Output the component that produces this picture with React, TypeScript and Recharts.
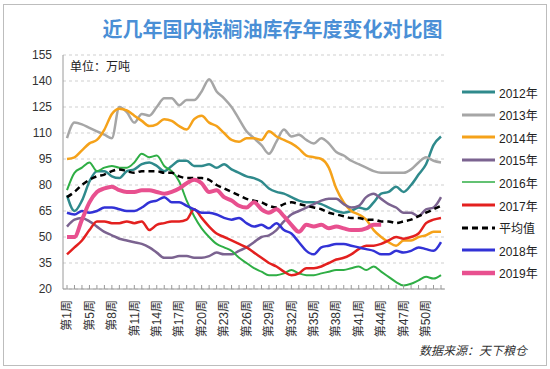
import React from "react";
import { LineChart, Line, XAxis, YAxis, CartesianGrid } from "recharts";

const weeks = [
  "第1周", "第3周", "第4周", "第5周", "第6周", "第7周", "第8周", "第9周", "第10周", "第11周",
  "第12周", "第13周", "第14周", "第15周", "第16周", "第17周", "第18周", "第19周", "第20周", "第21周",
  "第22周", "第23周", "第24周", "第25周", "第26周", "第27周", "第28周", "第29周", "第30周", "第31周",
  "第32周", "第33周", "第34周", "第35周", "第36周", "第37周", "第38周", "第39周", "第40周", "第41周",
  "第42周", "第43周", "第44周", "第45周", "第46周", "第47周", "第48周", "第49周", "第50周", "第51周",
  "第52周",
];

const y2012 = [74, 65, 71, 82, 88, 88, 85, 84, 88, 89, 92, 93, 91, 88, 91, 94, 94, 91, 91, 92, 90, 92, 89, 87, 85, 84, 82, 78, 76, 75, 73, 71, 70, 70, 69, 67, 65, 64, 65, 67, 66, 70, 75, 76, 79, 76, 80, 86, 92, 103, 108];
const y2013 = [107, 116, 115, 113, 111, 109, 107, 125, 122, 116, 121, 120, 125, 130, 130, 126, 129, 129, 134, 141, 134, 130, 125, 118, 111, 107, 103, 98, 105, 112, 108, 109, 106, 104, 107, 104, 99, 97, 94, 92, 90, 88, 87, 87, 87, 87, 89, 93, 96, 94, 93];
const y2014 = [95, 96, 100, 104, 106, 112, 121, 124, 123, 120, 117, 114, 115, 118, 117, 114, 112, 118, 120, 116, 114, 110, 106, 105, 107, 107, 106, 111, 108, 106, 104, 101, 97, 96, 95, 90, 78, 70, 65, 63, 60, 54, 50, 47, 45, 48, 48, 50, 51, 53, 53];
const y2015 = [56, 60, 61, 59, 56, 53, 51, 49, 48, 47, 46, 44, 41, 38, 38, 39, 39, 38, 38, 39, 41, 40, 40, 42, 44, 47, 50, 51, 54, 59, 63, 65, 67, 69, 71, 72, 72, 69, 67, 68, 73, 75, 72, 69, 67, 64, 64, 62, 66, 67, 73];
const y2016 = [77, 87, 90, 93, 88, 90, 91, 90, 90, 93, 98, 96, 97, 91, 88, 82, 71, 62, 55, 50, 46, 44, 42, 38, 35, 32, 30, 28, 28, 29, 31, 29, 28, 28, 29, 30, 31, 31, 32, 33, 31, 33, 30, 27, 24, 22, 23, 25, 27, 26, 28];
const y2017 = [40, 44, 48, 54, 59, 59, 58, 58, 59, 58, 59, 54, 57, 58, 59, 59, 60, 66, 61, 56, 52, 50, 48, 46, 44, 41, 38, 35, 33, 30, 28, 29, 32, 32, 33, 35, 37, 38, 40, 43, 45, 45, 46, 48, 50, 49, 50, 52, 58, 60, 61];
const yAvg = [73, 76, 80, 83, 85, 86, 88, 89, 88, 87, 88, 88, 88, 87, 87, 85, 84, 84, 84, 83, 80, 78, 76, 74, 72, 71, 70, 68, 67, 69, 70, 69, 68, 67, 66, 64, 63, 62, 61, 61, 60, 60, 59, 59, 58, 59, 60, 62, 64, 66, 68];
const y2018 = [64, 63, 65, 64, 65, 67, 67, 66, 65, 65, 67, 70, 71, 73, 70, 70, 68, 66, 64, 64, 63, 61, 60, 61, 58, 56, 57, 55, 58, 54, 52, 47, 42, 40, 44, 45, 46, 46, 45, 44, 43, 42, 40, 40, 42, 41, 42, 44, 43, 42, 47];
const y2019 = [50, 50, 60, 70, 76, 78, 79, 77, 76, 76, 77, 77, 76, 75, 76, 78, 81, 83, 81, 76, 77, 73, 71, 68, 67, 70, 66, 64, 66, 62, 57, 53, 57, 56, 57, 55, 56, 55, 54, 54, 55, 57, 57, null, null, null, null, null, null, null, null];

const yTicks = [20, 35, 50, 65, 80, 95, 110, 125, 140, 155];

const series = [
  { key: "s2012", name: "2012年", values: y2012, color: "#2f8a8c", width: 2.5 },
  { key: "s2013", name: "2013年", values: y2013, color: "#a6a6a6", width: 2.5 },
  { key: "s2014", name: "2014年", values: y2014, color: "#f5a21a", width: 2.5 },
  { key: "s2015", name: "2015年", values: y2015, color: "#7b6390", width: 2.5 },
  { key: "s2016", name: "2016年", values: y2016, color: "#2fae45", width: 2 },
  { key: "s2017", name: "2017年", values: y2017, color: "#e3201f", width: 2.5 },
  { key: "avg", name: "平均值", values: yAvg, color: "#000000", width: 2.5, dash: "6 4" },
  { key: "s2018", name: "2018年", values: y2018, color: "#3232d6", width: 2.5 },
  { key: "s2019", name: "2019年", values: y2019, color: "#e8508f", width: 4 },
];

const data = weeks.map((week, i) => {
  const row: Record<string, string | number | null> = { week };
  series.forEach((s) => {
    row[s.key] = s.values[i];
  });
  return row;
});

const FONT = "'Liberation Sans', 'Noto Sans CJK SC', sans-serif";

const WeekTick = (props: any) => {
  const { x, y, payload, index } = props;
  return (
    <g>
      <line x1={x} y1={y} x2={x} y2={y - 4} stroke="#9a9a9a" />
      {index % 3 === 0 && (
        <text
          x={x}
          y={y + 11}
          transform={`rotate(-90, ${x}, ${y + 11})`}
          textAnchor="end"
          dy="0.35em"
          fontSize={12}
          fill="#333"
          fontFamily={FONT}
        >
          {payload.value}
        </text>
      )}
    </g>
  );
};

export default function App() {
  return (
    <div
      style={{
        position: "relative",
        width: 550,
        height: 369,
        background: "#fff",
        fontFamily: FONT,
        overflow: "hidden",
      }}
    >
      <style>{`body{margin:0}`}</style>
      <div
        style={{
          position: "absolute",
          left: 3,
          top: 4,
          width: 542,
          height: 360,
          border: "1px solid #bdbdbd",
        }}
      />
      <div
        style={{
          position: "absolute",
          left: 0,
          top: 14,
          width: 545,
          textAlign: "center",
          fontSize: 20,
          fontWeight: 600,
          color: "#4a8fd6",
          fontFamily: "'Noto Sans CJK SC', sans-serif",
        }}
      >
        近几年国内棕榈油库存年度变化对比图
      </div>
      <div style={{ position: "absolute", left: 70, top: 57, fontSize: 12, color: "#222" }}>
        单位：万吨
      </div>
      <div
        style={{
          position: "absolute",
          left: 419,
          top: 341,
          fontSize: 12,
          fontStyle: "italic",
          color: "#333",
        }}
      >
        数据来源：天下粮仓
      </div>
      <div style={{ position: "absolute", left: 0, top: 0 }}>
        <LineChart
          width={550}
          height={369}
          data={data}
          margin={{ top: 55, right: 105, bottom: 0, left: 0 }}
        >
          <CartesianGrid vertical={false} stroke="#cfcfcf" strokeDasharray="3 3" />
          <XAxis
            dataKey="week"
            interval={0}
            tick={<WeekTick />}
            tickLine={false}
            tickSize={0}
            tickMargin={0}
            height={80}
            padding={{ left: 4, right: 4 }}
            axisLine={{ stroke: "#9a9a9a" }}
          />
          <YAxis
            domain={[20, 155]}
            ticks={yTicks}
            width={63}
            tickLine={false}
            tickMargin={5}
            axisLine={{ stroke: "#9a9a9a" }}
            tick={{ fontSize: 12, fill: "#333", fontFamily: FONT }}
            interval={0}
          />
          {series.map((s) => (
            <Line
              key={s.key}
              type="monotone"
              dataKey={s.key}
              name={s.name}
              stroke={s.color}
              strokeWidth={s.width}
              strokeDasharray={s.dash}
              dot={false}
              activeDot={false}
              isAnimationActive={false}
            />
          ))}
        </LineChart>
      </div>
      {series.map((s, i) => (
        <div
          key={s.key}
          style={{
            position: "absolute",
            left: 462,
            top: 84 + i * 22.6,
            height: 16,
            display: "flex",
            alignItems: "center",
            fontSize: 12,
            color: "#222",
          }}
        >
          <svg width={34} height={16} style={{ marginRight: 3 }}>
            <line
              x1={0}
              y1={8}
              x2={33}
              y2={8}
              stroke={s.color}
              strokeWidth={s.key === "s2016" ? 1.5 : s.width + 0.5}
              strokeDasharray={s.dash}
            />
          </svg>
          {s.name}
        </div>
      ))}
    </div>
  );
}
